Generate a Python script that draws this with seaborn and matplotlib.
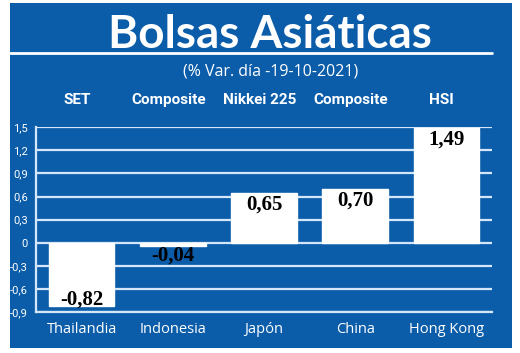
import matplotlib
matplotlib.use("Agg")
import matplotlib.pyplot as plt
import matplotlib.transforms as mtransforms
from matplotlib.patches import Rectangle
from matplotlib.lines import Line2D
import seaborn as sns
import pandas as pd

countries = ["Thailandia", "Indonesia", "Japón", "China", "Hong Kong"]
indices = ["SET", "Composite", "Nikkei 225", "Composite", "HSI"]
values = [-0.82, -0.04, 0.65, 0.70, 1.49]
value_labels = ["-0,82", "-0,04", "0,65", "0,70", "1,49"]
yticks = [-0.9, -0.6, -0.3, 0, 0.3, 0.6, 0.9, 1.2, 1.5]
ytick_labels = ["-0,9", "-0,6", "-0,3", "0", "0,3", "0,6", "0,9", "1,2", "1,5"]
title = "Bolsas Asiáticas"
subtitle = "(% Var. día -19-10-2021)"

BLUE = "#0B5DAA"
GRID = "#d4e6f7"

sns.set_theme(style="white")
narrow = ["Liberation Sans Narrow", "Roboto", "DejaVu Sans"]
plt.rcParams["font.family"] = ["Open Sans", "DejaVu Sans"]

W, H = 520, 353
fig = plt.figure(figsize=(W / 100, H / 100), dpi=100)
fig.patch.set_facecolor("white")
fig.patches.append(Rectangle((10 / W, 1 - 348 / H), 502 / W, 345 / H,
                             transform=fig.transFigure, facecolor=BLUE,
                             edgecolor="none", zorder=-10))
fig.lines.append(Line2D([10 / W, 492 / W], [1 - 53 / H, 1 - 53 / H],
                        transform=fig.transFigure, color="white", lw=2))

fig.text(270 / W, 1 - 35 / H, title, ha="center", va="center", color="white",
         fontsize=33, fontweight="bold", family=["Lato", "DejaVu Sans"])
fig.text(271 / W, 1 - 71 / H, subtitle, ha="center", va="center", color="white",
         fontsize=11.5)

ax = fig.add_axes([36 / W, 1 - 312 / H, 456 / W, (312 - 127.3) / H])
ax.set_facecolor("none")
ax.set_zorder(2)
df = pd.DataFrame({"pais": countries, "valor": values})
sns.barplot(data=df, x="pais", y="valor", color="white", saturation=1,
            width=0.72, ax=ax, zorder=3)
ax.set_xlim(-0.5, 4.5)
ax.set_ylim(-0.9, 1.5)
ax.set_yticks(yticks)
ax.set_yticklabels(ytick_labels, color="white", fontsize=8, family=narrow)
ax.set_xlabel("")
ax.set_ylabel("")
ax.tick_params(axis="y", length=0, pad=6)
ax.tick_params(axis="x", length=0, pad=7, labelsize=10.5, colors="white")
for lab in ax.get_xticklabels():
    lab.set_color("white")
for y in yticks:
    ax.axhline(y, color=GRID, lw=1.6, zorder=1)
for s in ["top", "right"]:
    ax.spines[s].set_visible(False)
for s in ["left", "bottom"]:
    ax.spines[s].set_color(GRID)
    ax.spines[s].set_linewidth(1.6)

serif = ["Liberation Serif", "DejaVu Serif"]
for i, (v, lab) in enumerate(zip(values, value_labels)):
    if v >= 0:
        ax.annotate(lab, (i, v), xytext=(0, -1.2), textcoords="offset points",
                    ha="center", va="top", fontsize=15, fontweight="bold",
                    family=serif, color="black", zorder=5)
    elif abs(v) > 0.2:
        ax.annotate(lab, (i, v), xytext=(0, -2.5), textcoords="offset points",
                    ha="center", va="bottom", fontsize=15, fontweight="bold",
                    family=serif, color="black", zorder=5)
    else:
        ax.annotate(lab, (i, v), xytext=(0, 0), textcoords="offset points",
                    ha="center", va="top", fontsize=15, fontweight="bold",
                    family=serif, color="black", zorder=5)

trans = mtransforms.blended_transform_factory(ax.transData, fig.transFigure)
for i, name in enumerate(indices):
    ax.text(i - 0.05, 1 - 100 / H, name, transform=trans, ha="center", va="center",
            color="white", fontsize=11, fontweight="bold", family=narrow)

fig.savefig("out.png", dpi=100, facecolor="white")
